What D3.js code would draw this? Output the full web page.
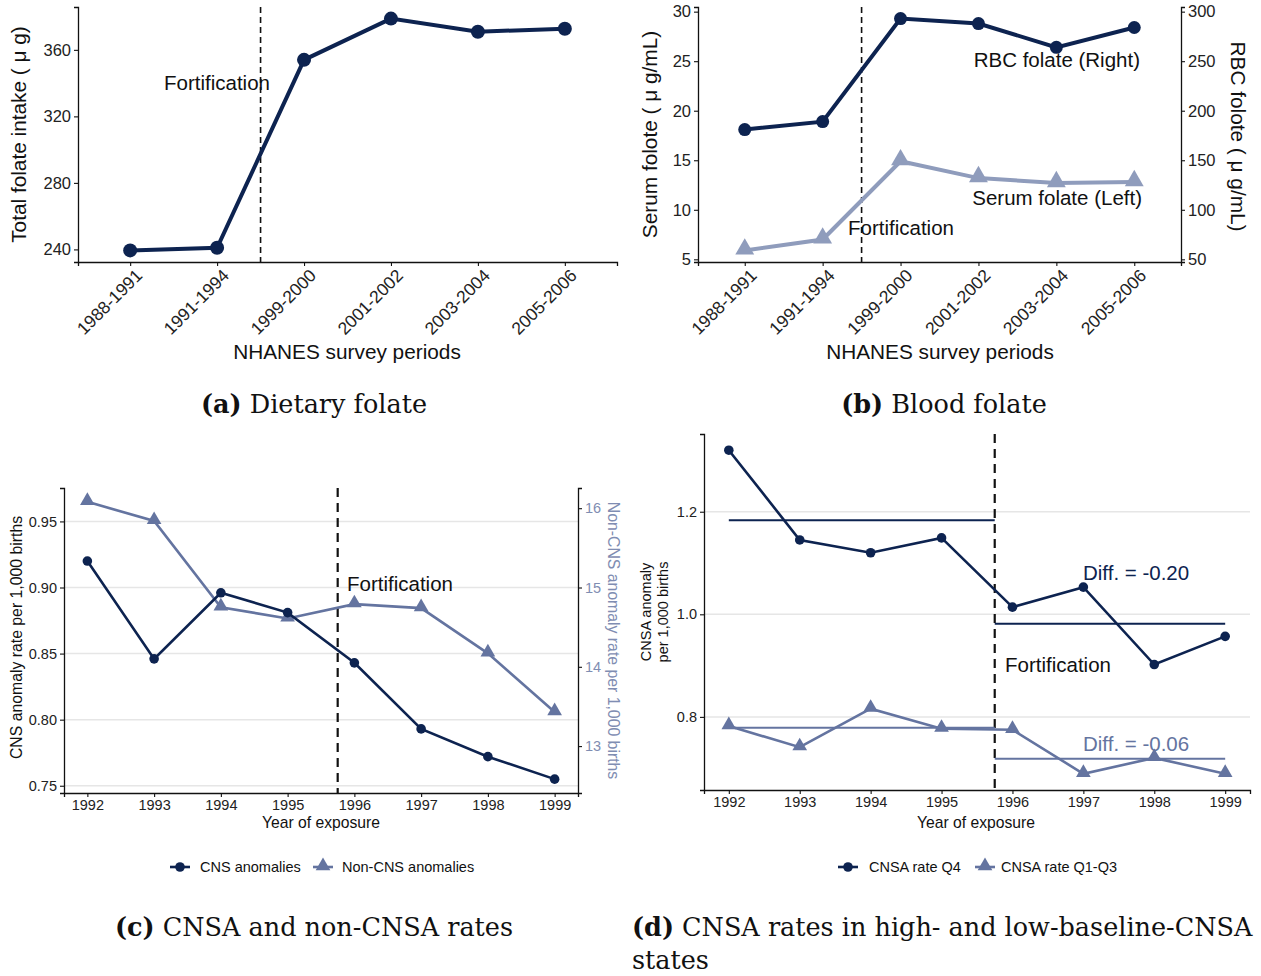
<!DOCTYPE html>
<html>
<head>
<meta charset="utf-8">
<script src="https://cdn.jsdelivr.net/npm/d3@7"></script>
<style>
  body { margin: 0; background: #fff; }
  text { font-family: "Liberation Sans", Arial, sans-serif; }
  .cap { font-family: "DejaVu Serif", "Liberation Serif", serif; font-size: 25.5px; fill: #111; }
</style>
</head>
<body>
<script>
// ---- data ----
const periods = ["1988-1991", "1991-1994", "1999-2000", "2001-2002", "2003-2004", "2005-2006"];
const folateIntake = [239.4, 241, 354, 378.8, 370.9, 372.7];
const rbcFolate = [181, 189, 293, 288, 264, 284];      // right axis (x10 of left)
const serumFolate = [5.9, 7.0, 14.9, 13.2, 12.7, 12.8];

const years = [1992, 1993, 1994, 1995, 1996, 1997, 1998, 1999];
const cnsRate = [0.920, 0.846, 0.896, 0.881, 0.843, 0.793, 0.772, 0.755];
const nonCnsRate = [16.08, 15.84, 14.75, 14.61, 14.79, 14.74, 14.17, 13.43];
const q4Rate = [1.320, 1.145, 1.120, 1.149, 1.014, 1.053, 0.902, 0.957];
const q13Rate = [0.782, 0.741, 0.816, 0.777, 0.775, 0.689, 0.720, 0.689];

const fortYear = 1995.75;
const nonCnsScale = 0.06;
const rbcScale = 10;

const navy = "#0d2350", serumCol = "#8f9cbc", steel = "#6474a0", rightLab = "#7f8db2";
const bigTitle = 20.8, annot = 20.5;

const svg = d3.select("body").append("svg").attr("width", 1261).attr("height", 976);

function expand(vals) {
  const [lo, hi] = d3.extent(vals);
  const p = (hi - lo) * 0.05;
  return [lo - p, hi + p];
}

function triangle(g, x, y, r, col) {
  g.append("path")
    .attr("d", d3.symbol(d3.symbolTriangle, r * r * 1.9)())
    .attr("transform", `translate(${x},${y - r * 0.15})`)
    .attr("fill", col);
}

function styleAxis(ax, size) {
  ax.select(".domain").attr("stroke", "#111").attr("stroke-width", 1.3);
  ax.selectAll(".tick line").attr("stroke", "#111").attr("stroke-width", 1.1);
  ax.selectAll(".tick text").attr("font-size", size).attr("fill", "#222");
}

function dashed(g, x, y0, y1, w, dash) {
  g.append("line").attr("x1", x).attr("x2", x).attr("y1", y0).attr("y2", y1)
    .attr("stroke", "#111").attr("stroke-width", w).attr("stroke-dasharray", dash);
}

function caption(x, y, bold, rest, anchor) {
  const t = svg.append("text").attr("class", "cap").attr("x", x).attr("y", y)
    .attr("text-anchor", anchor || "middle");
  t.append("tspan").attr("font-weight", "bold").text(bold);
  t.append("tspan").text(" " + rest);
  return t;
}

function rotateTicks(xa) {
  xa.selectAll(".tick text").attr("text-anchor", "end")
    .attr("transform", "translate(4,6) rotate(-45)").attr("dy", "0.7em").attr("y", 0).attr("x", 0);
}

// ---- (a) dietary folate ----
{
  const L = 78, R = 617, T = 7, B = 262;
  const x = d3.scalePoint().domain(periods).range([L, R]).padding(0.6);
  const y = d3.scaleLinear().domain(expand(folateIntake)).range([B, T]);
  const g = svg.append("g");

  const xa = g.append("g").attr("transform", `translate(0,${B})`)
    .call(d3.axisBottom(x).tickSizeOuter(0).tickSize(4));
  styleAxis(xa, 17.5);
  rotateTicks(xa);
  const ya = g.append("g").attr("transform", `translate(${L},0)`)
    .call(d3.axisLeft(y).tickValues([240, 280, 320, 360]).tickSizeOuter(0).tickSize(4));
  styleAxis(ya, 16.5);

  const xm = (x(periods[1]) + x(periods[2])) / 2;
  dashed(g, xm, T, B, 1.6, "6,4");

  g.append("path").datum(folateIntake)
    .attr("d", d3.line().x((d, i) => x(periods[i])).y(d => y(d)))
    .attr("fill", "none").attr("stroke", navy).attr("stroke-width", 4);
  g.selectAll("circle").data(folateIntake).join("circle")
    .attr("cx", (d, i) => x(periods[i])).attr("cy", d => y(d)).attr("r", 7).attr("fill", navy);

  g.append("text").attr("x", 164).attr("y", 90).attr("font-size", annot).attr("fill", "#111").text("Fortification");
  g.append("text").attr("transform", `translate(26,${(T + B) / 2}) rotate(-90)`)
    .attr("text-anchor", "middle").attr("font-size", bigTitle).attr("fill", "#111").text("Total folate intake ( \u03bc g)");
  g.append("text").attr("x", 347).attr("y", 359).attr("text-anchor", "middle")
    .attr("font-size", bigTitle).attr("fill", "#111").text("NHANES survey periods");
}

// ---- (b) blood folate ----
{
  const L = 698, R = 1181, T = 7, B = 262;
  const x = d3.scalePoint().domain(periods).range([L, R]).padding(0.6);
  const y = d3.scaleLinear().domain(expand(serumFolate.concat(rbcFolate.map(d => d / rbcScale)))).range([B, T]);
  const y2 = d3.scaleLinear().domain(y.domain().map(d => d * rbcScale)).range([B, T]);
  const g = svg.append("g");

  const xa = g.append("g").attr("transform", `translate(0,${B})`)
    .call(d3.axisBottom(x).tickSizeOuter(0).tickSize(4));
  styleAxis(xa, 17.5);
  rotateTicks(xa);
  const ya = g.append("g").attr("transform", `translate(${L},0)`)
    .call(d3.axisLeft(y).tickValues([5, 10, 15, 20, 25, 30]).tickSizeOuter(0).tickSize(4));
  styleAxis(ya, 16.5);
  const yb = g.append("g").attr("transform", `translate(${R},0)`)
    .call(d3.axisRight(y2).tickValues([50, 100, 150, 200, 250, 300]).tickSizeOuter(0).tickSize(4));
  styleAxis(yb, 16.5);

  const xm = (x(periods[1]) + x(periods[2])) / 2;
  dashed(g, xm, T, B, 1.6, "6,4");

  g.append("path").datum(serumFolate)
    .attr("d", d3.line().x((d, i) => x(periods[i])).y(d => y(d)))
    .attr("fill", "none").attr("stroke", serumCol).attr("stroke-width", 4);
  serumFolate.forEach((d, i) => triangle(g, x(periods[i]), y(d), 9, serumCol));

  g.append("path").datum(rbcFolate)
    .attr("d", d3.line().x((d, i) => x(periods[i])).y(d => y2(d)))
    .attr("fill", "none").attr("stroke", navy).attr("stroke-width", 4);
  g.selectAll("circle").data(rbcFolate).join("circle")
    .attr("cx", (d, i) => x(periods[i])).attr("cy", d => y2(d)).attr("r", 6.5).attr("fill", navy);

  g.append("text").attr("x", 1140).attr("y", 67).attr("text-anchor", "end").attr("font-size", annot).attr("fill", "#111").text("RBC folate (Right)");
  g.append("text").attr("x", 1142).attr("y", 205).attr("text-anchor", "end").attr("font-size", annot).attr("fill", "#111").text("Serum folate (Left)");
  g.append("text").attr("x", 848).attr("y", 235).attr("font-size", annot).attr("fill", "#111").text("Fortification");

  g.append("text").attr("transform", `translate(657,${(T + B) / 2}) rotate(-90)`)
    .attr("text-anchor", "middle").attr("font-size", bigTitle).attr("fill", "#111").text("Serum folote ( \u03bc g/mL)");
  g.append("text").attr("transform", `translate(1231,${(T + B) / 2 + 2}) rotate(90)`)
    .attr("text-anchor", "middle").attr("font-size", bigTitle).attr("fill", "#111").text("RBC folote ( \u03bc g/mL)");
  g.append("text").attr("x", 940).attr("y", 359).attr("text-anchor", "middle")
    .attr("font-size", bigTitle).attr("fill", "#111").text("NHANES survey periods");
}

// ---- (c) CNSA and non-CNSA ----
{
  const L = 64, R = 578, T = 488, B = 793;
  const x = d3.scaleLinear().domain([years[0] - 0.35, years[years.length - 1] + 0.35]).range([L, R]);
  const y = d3.scaleLinear().domain(expand(cnsRate.concat(nonCnsRate.map(d => d * nonCnsScale)))).range([B, T]);
  const y2 = d3.scaleLinear().domain(y.domain().map(d => d / nonCnsScale)).range([B, T]);
  const g = svg.append("g");

  const yt = [0.75, 0.80, 0.85, 0.90, 0.95];
  g.selectAll(".grid").data(yt).join("line")
    .attr("x1", L).attr("x2", R).attr("y1", d => y(d)).attr("y2", d => y(d))
    .attr("stroke", "#e6e6e6").attr("stroke-width", 1.5);

  const xa = g.append("g").attr("transform", `translate(0,${B})`)
    .call(d3.axisBottom(x).tickValues(years).tickFormat(d3.format("d")).tickSizeOuter(0).tickSize(4));
  styleAxis(xa, 14.5);
  const ya = g.append("g").attr("transform", `translate(${L},0)`)
    .call(d3.axisLeft(y).tickValues(yt).tickFormat(d3.format(".2f")).tickSizeOuter(0).tickSize(4));
  styleAxis(ya, 14.5);
  const yb = g.append("g").attr("transform", `translate(${R},0)`)
    .call(d3.axisRight(y2).tickValues([13, 14, 15, 16]).tickFormat(d3.format("d")).tickSizeOuter(0).tickSize(4));
  styleAxis(yb, 14.5);
  yb.selectAll(".tick text").attr("fill", rightLab);

  dashed(g, x(fortYear), T, B, 2.2, "9,6");

  g.append("path").datum(nonCnsRate)
    .attr("d", d3.line().x((d, i) => x(years[i])).y(d => y2(d)))
    .attr("fill", "none").attr("stroke", steel).attr("stroke-width", 2.6);
  nonCnsRate.forEach((d, i) => triangle(g, x(years[i]), y2(d), 7, steel));

  g.append("path").datum(cnsRate)
    .attr("d", d3.line().x((d, i) => x(years[i])).y(d => y(d)))
    .attr("fill", "none").attr("stroke", navy).attr("stroke-width", 2.6);
  g.selectAll("circle").data(cnsRate).join("circle")
    .attr("cx", (d, i) => x(years[i])).attr("cy", d => y(d)).attr("r", 4.8).attr("fill", navy);

  g.append("text").attr("x", 347).attr("y", 591).attr("font-size", annot).attr("fill", "#111").text("Fortification");
  g.append("text").attr("transform", `translate(22,${(T + B) / 2 - 3}) rotate(-90)`)
    .attr("text-anchor", "middle").attr("font-size", 15.8).attr("fill", "#111").text("CNS anomaly rate per 1,000 births");
  g.append("text").attr("transform", `translate(608,${(T + B) / 2}) rotate(90)`)
    .attr("text-anchor", "middle").attr("font-size", 15.8).attr("fill", rightLab).text("Non-CNS anomaly rate per 1,000 births");
  g.append("text").attr("x", 321).attr("y", 828).attr("text-anchor", "middle")
    .attr("font-size", 15.7).attr("fill", "#111").text("Year of exposure");

  // legend
  const lg = g.append("g").attr("transform", "translate(170,867)");
  lg.append("line").attr("x1", 0).attr("x2", 20).attr("stroke", navy).attr("stroke-width", 2.6);
  lg.append("circle").attr("cx", 10).attr("r", 4.8).attr("fill", navy);
  lg.append("text").attr("x", 30).attr("y", 5).attr("font-size", 14.5).attr("fill", "#111").text("CNS anomalies");
  lg.append("line").attr("x1", 143).attr("x2", 163).attr("stroke", steel).attr("stroke-width", 2.6);
  triangle(lg, 153, 0, 7, steel);
  lg.append("text").attr("x", 172).attr("y", 5).attr("font-size", 14.5).attr("fill", "#111").text("Non-CNS anomalies");
}

// ---- (d) high vs low baseline ----
{
  const L = 704, R = 1250, T = 434, B = 790;
  const x = d3.scaleLinear().domain([years[0] - 0.35, years[years.length - 1] + 0.35]).range([L, R]);
  const y = d3.scaleLinear().domain(expand(q4Rate.concat(q13Rate))).range([B, T]);
  const g = svg.append("g");

  const yt = [0.8, 1.0, 1.2];
  g.selectAll(".grid").data(yt).join("line")
    .attr("x1", L).attr("x2", R).attr("y1", d => y(d)).attr("y2", d => y(d))
    .attr("stroke", "#e6e6e6").attr("stroke-width", 1.5);

  const xa = g.append("g").attr("transform", `translate(0,${B})`)
    .call(d3.axisBottom(x).tickValues(years).tickFormat(d3.format("d")).tickSizeOuter(0).tickSize(4));
  styleAxis(xa, 14.5);
  const ya = g.append("g").attr("transform", `translate(${L},0)`)
    .call(d3.axisLeft(y).tickValues(yt).tickFormat(d3.format(".1f")).tickSizeOuter(0).tickSize(4));
  styleAxis(ya, 14.5);

  dashed(g, x(fortYear), T, B, 2.2, "9,6");

  // pre / post means
  const pre = years.map((yr, i) => yr < fortYear ? i : -1).filter(i => i >= 0);
  const post = years.map((yr, i) => yr > fortYear ? i : -1).filter(i => i >= 0);
  const meanLines = [
    { v: d3.mean(pre, i => q4Rate[i]), x0: years[0], x1: fortYear, c: navy },
    { v: d3.mean(post, i => q4Rate[i]), x0: fortYear, x1: years[years.length - 1], c: navy },
    { v: d3.mean(pre, i => q13Rate[i]), x0: years[0], x1: fortYear, c: steel },
    { v: d3.mean(post, i => q13Rate[i]), x0: fortYear, x1: years[years.length - 1], c: steel }
  ];
  g.selectAll(".mean").data(meanLines).join("line")
    .attr("x1", d => x(d.x0)).attr("x2", d => x(d.x1)).attr("y1", d => y(d.v)).attr("y2", d => y(d.v))
    .attr("stroke", d => d.c).attr("stroke-width", 2);

  g.append("path").datum(q13Rate)
    .attr("d", d3.line().x((d, i) => x(years[i])).y(d => y(d)))
    .attr("fill", "none").attr("stroke", steel).attr("stroke-width", 2.6);
  q13Rate.forEach((d, i) => triangle(g, x(years[i]), y(d), 7, steel));

  g.append("path").datum(q4Rate)
    .attr("d", d3.line().x((d, i) => x(years[i])).y(d => y(d)))
    .attr("fill", "none").attr("stroke", navy).attr("stroke-width", 2.6);
  g.selectAll("circle").data(q4Rate).join("circle")
    .attr("cx", (d, i) => x(years[i])).attr("cy", d => y(d)).attr("r", 4.8).attr("fill", navy);

  const d4 = meanLines[1].v - meanLines[0].v, d13 = meanLines[3].v - meanLines[2].v;
  g.append("text").attr("x", 1083).attr("y", 580).attr("font-size", annot).attr("fill", navy).text("Diff. = " + d4.toFixed(2));
  g.append("text").attr("x", 1083).attr("y", 751).attr("font-size", annot).attr("fill", steel).text("Diff. = " + d13.toFixed(2));
  g.append("text").attr("x", 1005).attr("y", 672).attr("font-size", annot).attr("fill", "#111").text("Fortification");

  const yl = g.append("text").attr("transform", `translate(651,${(T + B) / 2}) rotate(-90)`)
    .attr("text-anchor", "middle").attr("font-size", 14.5).attr("fill", "#111");
  yl.append("tspan").attr("x", 0).attr("dy", 0).text("CNSA anomaly");
  yl.append("tspan").attr("x", 0).attr("dy", 16.5).text("per 1,000 births");
  g.append("text").attr("x", 976).attr("y", 828).attr("text-anchor", "middle")
    .attr("font-size", 15.7).attr("fill", "#111").text("Year of exposure");

  const lg = g.append("g").attr("transform", "translate(838,867)");
  lg.append("line").attr("x1", 0).attr("x2", 20).attr("stroke", navy).attr("stroke-width", 2.6);
  lg.append("circle").attr("cx", 10).attr("r", 4.8).attr("fill", navy);
  lg.append("text").attr("x", 31).attr("y", 5).attr("font-size", 14.5).attr("fill", "#111").text("CNSA rate Q4");
  lg.append("line").attr("x1", 137).attr("x2", 157).attr("stroke", steel).attr("stroke-width", 2.6);
  triangle(lg, 147, 0, 7, steel);
  lg.append("text").attr("x", 163).attr("y", 5).attr("font-size", 14.5).attr("fill", "#111").text("CNSA rate Q1-Q3");
}

// ---- captions ----
caption(314, 413, "(a)", "Dietary folate");
caption(944, 413, "(b)", "Blood folate");
caption(314, 936, "(c)", "CNSA and non-CNSA rates");
caption(632, 936, "(d)", "CNSA rates in high- and low-baseline-CNSA", "start");
svg.append("text").attr("class", "cap").attr("x", 632).attr("y", 969).text("states");
</script>
</body>
</html>
